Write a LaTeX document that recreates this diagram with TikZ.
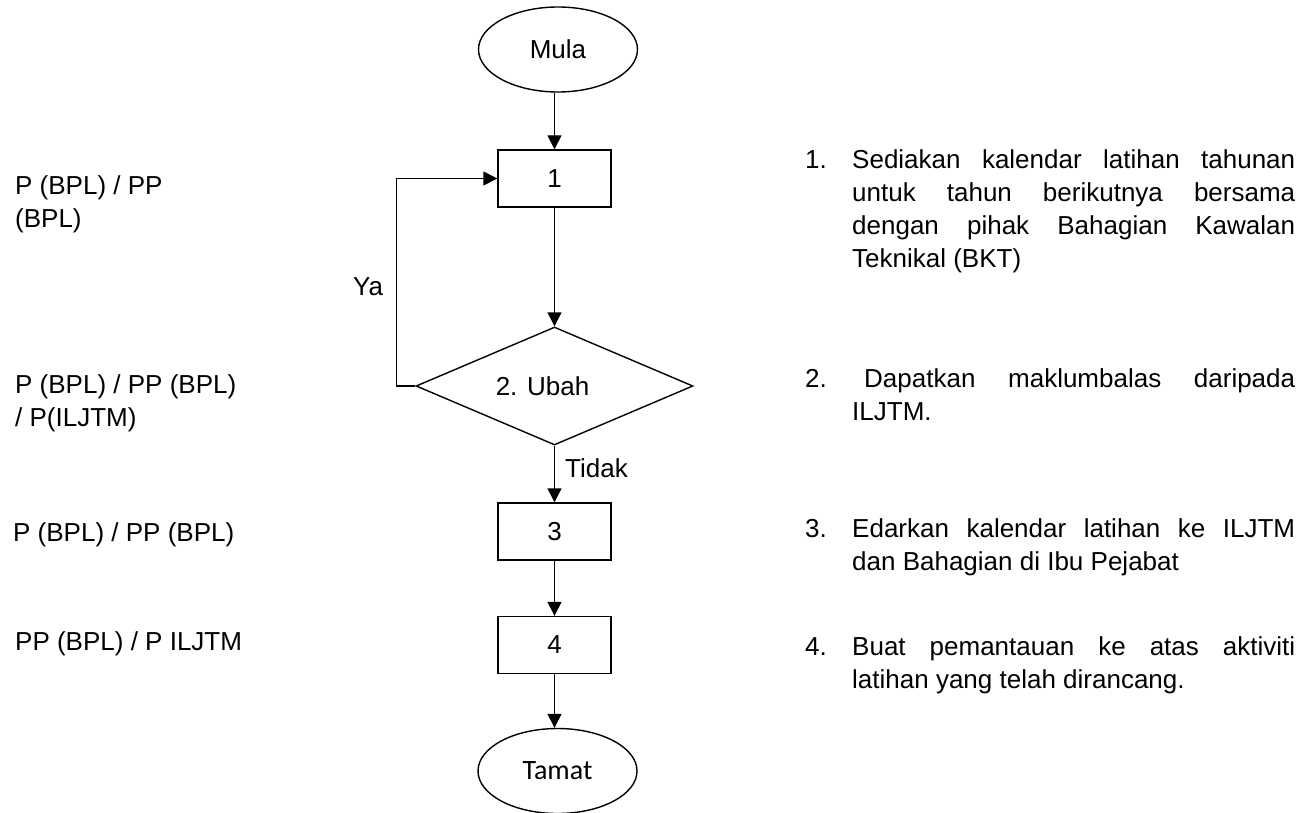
\documentclass[tikz,border=0pt]{standalone}
\usepackage{fontspec}
\setmainfont{Liberation Sans}
\newfontfamily\calib{Carlito}
\usetikzlibrary{shapes.geometric,arrows.meta}
\newcommand{\jl}[1]{\makebox[443pt][s]{#1}\\}
\begin{document}
\begin{tikzpicture}[x=1pt,y=-1pt,
  every node/.style={font=\fontsize{26}{33}\selectfont},
  arr/.style={line width=1.4pt, -{Triangle[length=14pt,width=14pt]}},
  box/.style={draw, line width=1.4pt, minimum width=113pt, minimum height=57pt, inner sep=0pt},
  term/.style={draw, ellipse, line width=1.4pt, minimum width=159pt, minimum height=85pt, inner sep=0pt},
  dec/.style={draw, diamond, line width=1.4pt, minimum width=277pt, minimum height=118pt, inner sep=0pt, aspect=2.35},
  lbl/.style={anchor=base west, inner sep=0pt},
]
\useasboundingbox (0,0) rectangle (1314,813);
% flow nodes
\node[term] (mula) at (558,49.5) {Mula};
\node[box] (b1) at (554.5,178.5) {1};
\node[dec] (d2) at (554.5,386) {\hspace*{-24pt}2. Ubah};
\node[box] (b3) at (554.5,531.5) {3};
\node[box] (b4) at (554.5,645) {4};
\node[term, font=\calib\fontsize{28}{33}\selectfont] (tamat) at (557.5,771) {Tamat};
% connectors
\draw[arr] (mula.south -| b1.north) -- (b1.north);
\draw[arr] (b1.south) -- (d2.north);
\draw[arr] (d2.south) -- (b3.north);
\draw[arr] (b3.south) -- (b4.north);
\draw[arr] (b4.south) -- (tamat.north -| b4.south);
\draw[arr] (d2.west) -- ++(-19,0) |- (b1.west);
\node[lbl] (ya) at (353,295) {Ya};
\node[lbl] (tidak) at (565,477) {Tidak};
% left column
\node[lbl] (r1) at (15,195) {\parbox[t]{260pt}{P (BPL) / PP\\(BPL)}};
\node[lbl] (r2) at (15,393) {\parbox[t]{260pt}{P (BPL) / PP (BPL)\\/ P(ILJTM)}};
\node[lbl] (r3) at (13,541) {P (BPL) / PP (BPL)};
\node[lbl] (r4) at (15,650) {PP (BPL) / P ILJTM};
% right column
\node[lbl] (n1) at (805,169) {1.};
\node[lbl] (t1) at (852,169) {\parbox[t]{443pt}{\jl{Sediakan kalendar latihan tahunan}\jl{untuk tahun berikutnya bersama}\jl{dengan pihak Bahagian Kawalan}Teknikal (BKT)}};
\node[lbl] (n2) at (805,387) {2.};
\node[lbl] (t2) at (852,387) {\parbox[t]{443pt}{\jl{\hspace{12pt}Dapatkan maklumbalas daripada}ILJTM.}};
\node[lbl] (n3) at (805,537) {3.};
\node[lbl] (t3) at (852,537) {\parbox[t]{443pt}{\jl{Edarkan kalendar latihan ke ILJTM}dan Bahagian di Ibu Pejabat}};
\node[lbl] (n4) at (805,655) {4.};
\node[lbl] (t4) at (852,655) {\parbox[t]{443pt}{\jl{Buat pemantauan ke atas aktiviti}latihan yang telah dirancang.}};
\end{tikzpicture}
\end{document}
